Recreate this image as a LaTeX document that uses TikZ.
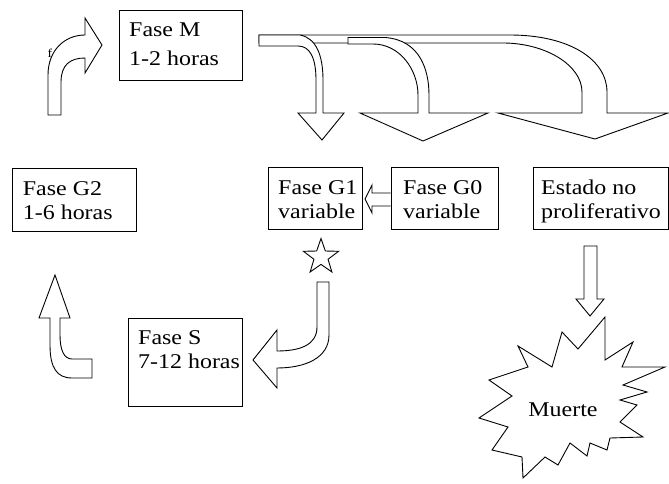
\documentclass[tikz,border=0pt]{standalone}
\usepackage{fontspec}
\setmainfont[FakeStretch=1.14]{Liberation Serif}
\usetikzlibrary{shapes.geometric,calc}
\tikzset{
  ln/.style={line width=0.9pt, draw=black, line join=miter},
  blk/.style={ln, fill=white},
  box/.style={ln, rectangle, inner sep=0pt},
  txt/.style={font=\fontsize{21}{24}\selectfont, align=left, inner sep=0pt, anchor=north west},
  txtw/.style={font=\fontsize{21}{28.5}\selectfont, align=left, inner sep=0pt, anchor=north west}
}
\begin{document}
\begin{tikzpicture}[x=1pt,y=-1pt]
\useasboundingbox (0,0) rectangle (669,484);
% boxes
\node[box, minimum width=123pt, minimum height=70pt] (M) at (180.5,45) {};
\node[txtw] (Mt) at (129,23) {Fase M\\1-2 horas};
\node[box, minimum width=124pt, minimum height=63pt] (G2) at (74.7,199.5) {};
\node[txt] (G2t) at (22.7,181) {Fase G2\\1-6 horas};
\node[box, minimum width=94pt, minimum height=62pt] (G1) at (315,198) {};
\node[txt] (G1t) at (278,180) {Fase G1\\variable};
\node[box, minimum width=107pt, minimum height=62pt] (G0) at (444.5,198) {};
\node[txt] (G0t) at (403,180) {Fase G0\\variable};
\node[box, minimum width=135pt, minimum height=62pt] (E) at (600.5,198) {};
\node[txt] (Et) at (541,180) {Estado no\\proliferativo};
\node[box, minimum width=114pt, minimum height=88pt] (S) at (185,362) {};
\node[txt] (St) at (138,330) {Fase S\\7-12 horas};
% star
\node[ln, star, star points=5, star point ratio=2.5, minimum size=37pt, inner sep=0pt] (star) at (321,257) {};
% G2 -> M curved arrow
\draw[blk] (48,115) -- (48,75) .. controls (48,50) and (65,35) .. (85,35) -- (85,18) -- (102,45)
  -- (85,73) -- (85,58) .. controls (70,58) and (61,65) .. (61,82) -- (61,115) -- cycle;
\node[font=\fontsize{12}{12}\selectfont, inner sep=0pt] (f) at (50,53) {f};
% S -> G2 curved arrow
\draw[blk] (50,318) -- (50,345) .. controls (50,368) and (57,378) .. (72,378) -- (92,378) -- (92,359)
  -- (72,359) .. controls (64,359) and (60,350) .. (60,335) -- (60,318) -- (70,318) -- (55,275)
  -- (39,318) -- cycle;
% G1 -> S curved arrow
\draw[blk] (317,282) -- (329,282) -- (329,335) .. controls (329,358) and (305,368) .. (277,368)
  -- (277,388) -- (253,360) -- (277,330) -- (277,351) .. controls (300,351) and (317,345) .. (317,327) -- cycle;
% G0 -> G1 arrow
\draw[blk] (G0.west |- 0,193) -- (372,193) -- (372,185) -- (365,199) -- (372,213) -- (372,206) -- (G0.west |- 0,206);
% Estado -> Muerte arrow
\draw[blk] (584,246) -- (597,246) -- (597,299) -- (604,299) -- (590,316) -- (576,299) -- (584,299) -- cycle;
% Muerte starburst
\draw[blk] (605,317) -- (578,349) -- (562,332) -- (552,367) -- (518,346) -- (528,367) -- (489,380)
  -- (512,396) -- (479,418) -- (508,427) -- (492,450) -- (522,457) -- (523,478) -- (545,457)
  -- (558,465) -- (570,443) -- (587,456) -- (590,443) -- (607,450) -- (610,438) -- (643,437)
  -- (620,422) -- (637,405) -- (620,400) -- (647,392) -- (623,385) -- (665,367) -- (622,367)
  -- (633,342) -- (605,360) -- cycle;
\node[font=\fontsize{21}{24}\selectfont, inner sep=0pt] (Mu) at (563,410) {Muerte};
% top branching arrows (from M)
\draw[blk] (259,35) -- (510,35) .. controls (570,35) and (607,60) .. (607,92) -- (607,113) -- (668,113)
  -- (595,139) -- (498,113) -- (582,113) -- (582,92) .. controls (582,65) and (545,43) .. (503,43)
  -- (259,43) -- cycle;
\draw[blk] (348,37.5) -- (385,37.5) .. controls (420,40) and (429,70) .. (429,95) -- (429,113) -- (488,113)
  -- (423,141) -- (360,113) -- (418,113) -- (418,95) .. controls (418,70) and (400,44) .. (373,44)
  -- (348,44) -- cycle;
\draw[blk] (259,35) -- (300,35) .. controls (316,38) and (323,55) .. (323,80) -- (323,113) -- (344,113)
  -- (322,140) -- (298,113) -- (316,113) -- (316,80) .. controls (316,58) and (310,46) .. (298,46)
  -- (259,46) -- cycle;
\end{tikzpicture}
\end{document}
